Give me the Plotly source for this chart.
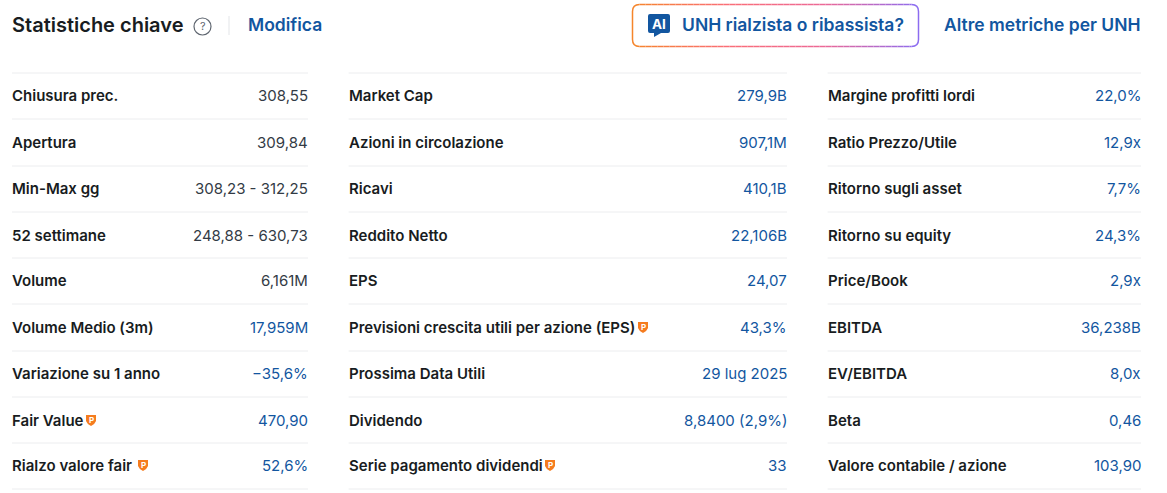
import plotly.graph_objects as go

W, H = 1167, 493
FONT = "Inter"
DARK = "#181C21"
GREY = "#333B45"
BLUE = "#1256A0"
LINE = "#ECEDEF"

title = "Statistiche chiave"
edit_link = "Modifica"
ai_button = "UNH rialzista o ribassista?"
more_link = "Altre metriche per UNH"

labels_1 = ["Chiusura prec.", "Apertura", "Min-Max gg", "52 settimane", "Volume",
            "Volume Medio (3m)", "Variazione su 1 anno", "Fair Value", "Rialzo valore fair"]
values_1 = ["308,55", "309,84", "308,23 - 312,25", "248,88 - 630,73", "6,161M",
            "17,959M", "−35,6%", "470,90", "52,6%"]
links_1 = [0, 0, 0, 0, 0, 1, 1, 1, 1]
badges_1 = {7: 91, 8: 143}

labels_2 = ["Market Cap", "Azioni in circolazione", "Ricavi", "Reddito Netto", "EPS",
            "Previsioni crescita utili per azione (EPS)", "Prossima Data Utili", "Dividendo",
            "Serie pagamento dividendi"]
values_2 = ["279,9B", "907,1M", "410,1B", "22,106B", "24,07", "43,3%", "29 lug 2025",
            "8,8400 (2,9%)", "33"]
links_2 = [1, 1, 1, 1, 1, 1, 1, 1, 1]
badges_2 = {5: 643, 8: 550}

labels_3 = ["Margine profitti lordi", "Ratio Prezzo/Utile", "Ritorno sugli asset", "Ritorno su equity",
            "Price/Book", "EBITDA", "EV/EBITDA", "Beta", "Valore contabile / azione"]
values_3 = ["22,0%", "12,9x", "7,7%", "24,3%", "2,9x", "36,238B", "8,0x", "0,46", "103,90"]
links_3 = [1, 1, 1, 1, 1, 1, 1, 1, 1]

columns = [
    (12, 308, labels_1, values_1, links_1, badges_1),
    (348.6, 787, labels_2, values_2, links_2, badges_2),
    (827.6, 1141, labels_3, values_3, links_3, {}),
]
row_y = [95, 142, 188, 235, 280, 327, 373, 420, 465]
rule_y = [73, 119, 166, 212, 258, 304, 351, 397, 443, 489]

annotations = []
shapes = []


def add_text(x, y, text, size, color, anchor="left", weight=400):
    annotations.append(dict(x=x, y=y, text=text, xref="x", yref="y", showarrow=False,
                            xanchor=anchor, yanchor="middle", borderpad=0, borderwidth=0,
                            font=dict(family=FONT, size=size, color=color, weight=weight)))


def add_badge(x, y):
    # little orange shield with a P
    path = (f"M {x-5},{y-5} L {x+5},{y-5} L {x+5},{y+1} Q {x+4},{y+4} {x},{y+6} "
            f"Q {x-4},{y+4} {x-5},{y+1} Z")
    shapes.append(dict(type="path", path=path, fillcolor="#F57C1F", line_width=0))
    add_text(x, y - 0.5, "P", 8, "white", "center", 700)


for left, right, labels, values, links, badges in columns:
    for y in rule_y:
        shapes.append(dict(type="line", x0=left, x1=right, y0=y, y1=y,
                           line=dict(color=LINE, width=1)))
    for i, y in enumerate(row_y):
        add_text(left, y, labels[i], 15, DARK, weight=600)
        add_text(right, y, values[i], 15, BLUE if links[i] else GREY, "right")
        if i in badges:
            add_badge(badges[i], y)

# header
add_text(12, 25, title, 20, DARK, weight=600)
shapes.append(dict(type="circle", x0=194, x1=211, y0=18, y1=35,
                   line=dict(color="#5F6670", width=1.2)))
add_text(202.5, 26, "?", 11, "#5F6670", "center")
shapes.append(dict(type="line", x0=229, x1=229, y0=16, y1=35, line=dict(color="#E3E5E8", width=1)))
add_text(248, 24, edit_link, 17.5, BLUE, weight=600)
add_text(1141, 24, more_link, 17.5, BLUE, "right", 600)

# gradient outline of the AI button, drawn as short pieces
bx0, bx1, by0, by1, r = 632.5, 918.5, 4.5, 46.5, 7
grad = [(245, 133, 43), (250, 110, 120), (236, 105, 150), (140, 108, 240)]


def grad_color(x):
    t = (x - bx0) / (bx1 - bx0) * (len(grad) - 1)
    i = min(int(t), len(grad) - 2)
    f = t - i
    c = [round(grad[i][k] + (grad[i + 1][k] - grad[i][k]) * f) for k in range(3)]
    return f"rgb({c[0]},{c[1]},{c[2]})"


step = 6
x = bx0 + r
while x < bx1 - r:
    x2 = min(x + step, bx1 - r)
    for y in (by0, by1):
        shapes.append(dict(type="line", x0=x, x1=x2, y0=y, y1=y,
                           line=dict(color=grad_color((x + x2) / 2), width=1.5)))
    x = x2
for cx, c in ((bx0, grad_color(bx0)), (bx1, grad_color(bx1))):
    sign = 1 if cx == bx0 else -1
    path = (f"M {cx+sign*r},{by0} Q {cx},{by0} {cx},{by0+r} L {cx},{by1-r} "
            f"Q {cx},{by1} {cx+sign*r},{by1}")
    shapes.append(dict(type="path", path=path, line=dict(color=c, width=1.5)))

# AI bubble icon
shapes.append(dict(type="path",
                   path="M 650,14 L 668,14 Q 670,14 670,16 L 670,31 Q 670,33 668,33 L 661,33 "
                        "L 654,37 L 654,33 L 650,33 Q 648,33 648,31 L 648,16 Q 648,14 650,14 Z",
                   fillcolor=BLUE, line_width=0))
add_text(659, 24, "AI", 13.5, "white", "center", 700)
add_text(682, 24, ai_button, 17.5, BLUE, weight=600)

fig = go.Figure()
fig.update_layout(
    width=W, height=H,
    margin=dict(l=0, r=0, t=0, b=0),
    paper_bgcolor="white", plot_bgcolor="white",
    showlegend=False,
    xaxis=dict(range=[0, W], visible=False, fixedrange=True),
    yaxis=dict(range=[H, 0], visible=False, fixedrange=True),
    shapes=shapes,
    annotations=annotations,
)
# page body has a default margin, drop it so the figure fills the window
fig.write_html("out.html", config=dict(displayModeBar=False),
               post_script="document.body.style.margin='0';document.body.style.overflow='hidden';")
